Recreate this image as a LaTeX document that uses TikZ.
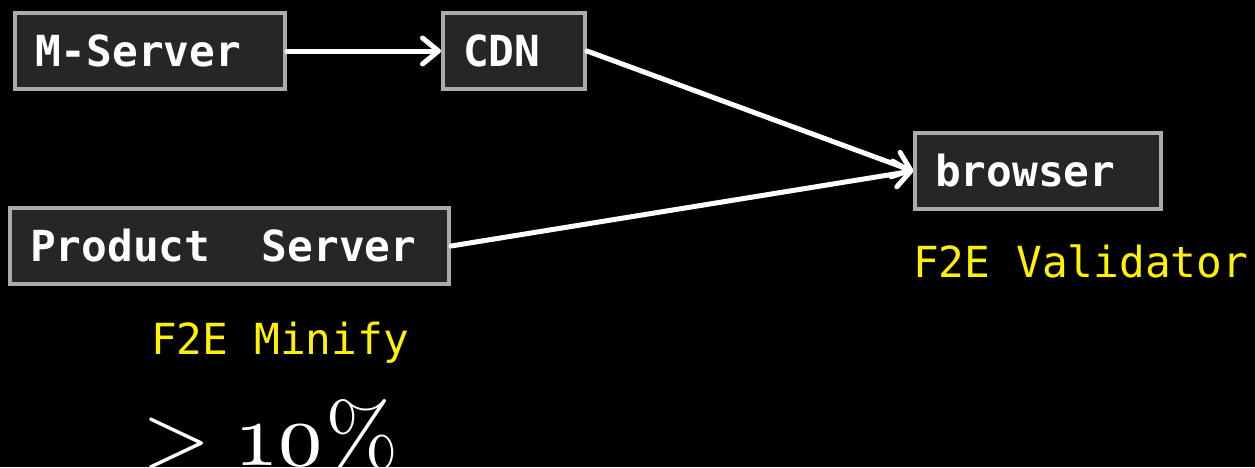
\documentclass[tikz,border=0pt]{standalone}
\usepackage{fontspec}
\newfontfamily\monofont{DejaVu Sans Mono}
\newfontfamily\ratiofont{lmroman10-regular.otf}[Numbers=OldStyle]
\usetikzlibrary{arrows.meta}

\begin{document}
\begin{tikzpicture}[x=1pt,y=-1pt]
\definecolor{boxfill}{RGB}{38,38,38}
\definecolor{boxline}{RGB}{172,172,172}
\colorlet{notecol}{yellow}
\tikzstyle{myarr}=[-{Straight Barb[length=16,width=26,round]}]
\tikzset{
box/.style={draw=boxline,fill=boxfill,line width=4,minimum height=76,
  inner xsep=20,inner ysep=0,text=white,align=left,text height=31.2,text depth=0,
  font=\monofont\bfseries\fontsize{42.8}{50}\selectfont},
note/.style={anchor=base west,inner sep=0,text=notecol,
  font=\monofont\fontsize{42.8}{50}\selectfont},
beam/.style={white,line width=5,line cap=round},
}
\def\W{1255}   % picture width
\def\H{467}    % picture height

% BACKGROUND
\useasboundingbox (0,0) rectangle (\W,\H);
\fill[black] (0,0) rectangle (\W,\H);

% SERVERS AND BROWSER
\node[box,text width=230] (mserver) at (150,51) {M-Server};
\node[box,text width=102] (cdn) at (514,51) {CDN};
\node[box,text width=206] (browser) at (1038,171) {browser};
\node[box,text width=399] (product) at (229.5,246) {Product\hspace{1.204em}Server};

% NOTES
\node[note] (validator) at (913,277) {F2E Validator};
\node[note] (minify) at (151,354) {F2E Minify};
\node[anchor=base west,inner sep=0,text=white,font=\ratiofont\fontsize{88}{90}\selectfont]
  (ratio) at (142,465) {> 10\%};

% ARROWS
\draw[beam,myarr] (mserver) -- (cdn);
\draw[beam,myarr] (cdn.east) -- (browser.west);
\draw[beam,myarr] (product.east) -- (browser.west);

\end{tikzpicture}
\end{document}
